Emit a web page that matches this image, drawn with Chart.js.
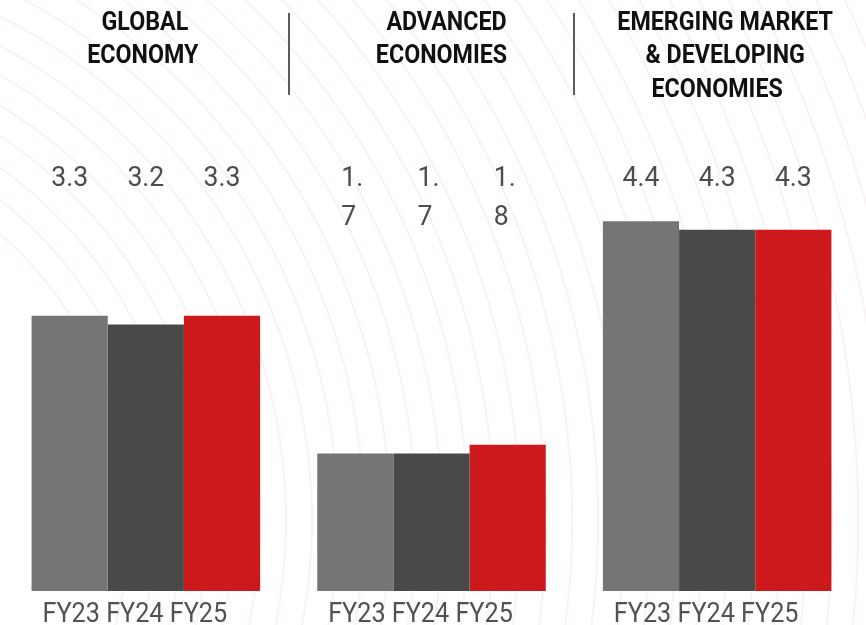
<!DOCTYPE html>
<html>
<head>
<meta charset="utf-8">
<script src="https://cdn.jsdelivr.net/npm/chart.js@4"></script>
<style>
  html, body { margin: 0; padding: 0; background: #ffffff; }
  #wrap { width: 866px; height: 625px; position: relative; }
  canvas { display: block; }
</style>
</head>
<body>
<div id="wrap"><canvas id="c" width="866" height="625"></canvas></div>
<script>
// ---- data ----
const categories = ['GLOBAL ECONOMY', 'ADVANCED ECONOMIES', 'EMERGING MARKET & DEVELOPING ECONOMIES'];
const titleLines = [
  ['GLOBAL', 'ECONOMY'],
  ['ADVANCED', 'ECONOMIES'],
  ['EMERGING MARKET', '& DEVELOPING', 'ECONOMIES']
];
const seriesNames = ['FY23', 'FY24', 'FY25'];
const fy23 = [3.3, 1.7, 4.4];
const fy24 = [3.2, 1.7, 4.3];
const fy25 = [3.3, 1.8, 4.3];
const fy23Labels = [['3.3'], ['1.', '7'], ['4.4']];
const fy24Labels = [['3.2'], ['1.', '7'], ['4.3']];
const fy25Labels = [['3.3'], ['1.', '8'], ['4.3']];
const tickLabels = ['FY23 FY24 FY25', 'FY23 FY24 FY25', 'FY23 FY24 FY25'];

const seriesValues = [fy23, fy24, fy25];
const seriesLabels = [fy23Labels, fy24Labels, fy25Labels];
const seriesColors = ['#757575', '#494948', '#cd181c'];

function drawText(ctx, text, x, y, sx) {
  ctx.save();
  ctx.translate(x, y);
  ctx.scale(sx, 1);
  ctx.fillText(text, 0, 0);
  ctx.restore();
}

const backgroundPlugin = {
  id: 'bgArcs',
  beforeDraw(chart) {
    const ctx = chart.ctx;
    ctx.save();
    ctx.fillStyle = '#ffffff';
    ctx.fillRect(0, 0, chart.width, chart.height);
    ctx.strokeStyle = 'rgba(215, 60, 75, 0.07)';
    ctx.lineWidth = 2;
    const cx = -250, cy = 520;
    for (let r = 380; r <= 1400; r += 26) {
      ctx.beginPath();
      ctx.arc(cx, cy, r, -Math.PI / 2 - 0.2, 0.6);
      ctx.stroke();
    }
    ctx.restore();
  }
};

const textPlugin = {
  id: 'texts',
  afterDraw(chart) {
    const ctx = chart.ctx;
    const xs = chart.scales.x;
    ctx.save();
    ctx.textAlign = 'center';
    ctx.textBaseline = 'alphabetic';

    // titles
    const titleOffsets = [[-1, -3], [15, 10], [8, 8, 0]];
    const titleBaselines = [30, 63, 96.5];
    ctx.fillStyle = '#111111';
    ctx.font = 'bold 25px Roboto';
    titleLines.forEach((lines, i) => {
      const cx = xs.getPixelForValue(i);
      lines.forEach((ln, j) => {
        drawText(ctx, ln, cx + titleOffsets[i][j], titleBaselines[j], 0.93);
      });
    });

    // separators
    ctx.strokeStyle = '#5a5a5a';
    ctx.lineWidth = 2;
    for (let i = 0; i < categories.length - 1; i++) {
      const sx = Math.round((xs.getPixelForValue(i) + xs.getPixelForValue(i + 1)) / 2);
      ctx.beginPath();
      ctx.moveTo(sx, 13);
      ctx.lineTo(sx, 95);
      ctx.stroke();
    }

    // value labels (wrapped lines share the left edge of the first line)
    ctx.fillStyle = '#4d4d4d';
    ctx.font = '28px Roboto';
    const valueBaselines = [185.5, 225];
    const vsx = 0.95;
    seriesLabels.forEach((labs, d) => {
      const meta = chart.getDatasetMeta(d);
      meta.data.forEach((bar, i) => {
        const lines = labs[i];
        if (lines.length === 1) {
          ctx.textAlign = 'center';
          drawText(ctx, lines[0], bar.x, valueBaselines[0], vsx);
        } else {
          const w = ctx.measureText(lines[0]).width * vsx;
          const x0 = bar.x - 3 - w / 2;
          ctx.textAlign = 'left';
          lines.forEach((ln, j) => drawText(ctx, ln, x0, valueBaselines[j], vsx));
        }
      });
    });

    // category tick labels
    ctx.textAlign = 'center';
    ctx.fillStyle = '#525252';
    ctx.font = '28px Roboto';
    tickLabels.forEach((t, i) => {
      drawText(ctx, t, xs.getPixelForValue(i) - 11, 622, 0.9);
    });
    ctx.restore();
  }
};

new Chart(document.getElementById('c'), {
  type: 'bar',
  data: {
    labels: categories,
    datasets: seriesNames.map((name, d) => ({
      label: name,
      data: seriesValues[d],
      backgroundColor: seriesColors[d],
      borderWidth: 0,
      categoryPercentage: 0.8,
      barPercentage: 1.0
    }))
  },
  options: {
    responsive: false,
    animation: false,
    devicePixelRatio: 1,
    layout: { padding: { left: 3, right: 6, top: 161, bottom: 34 } },
    plugins: { legend: { display: false }, tooltip: { enabled: false } },
    scales: {
      x: { display: false },
      y: { display: false, min: 0.1, max: 5.1 }
    }
  },
  plugins: [backgroundPlugin, textPlugin]
});
</script>
</body>
</html>
